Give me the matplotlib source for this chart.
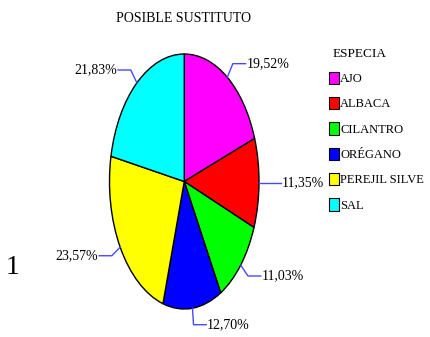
import numpy as np
import matplotlib
matplotlib.use("Agg")
import matplotlib.pyplot as plt

plt.rcParams['font.family'] = ['Liberation Serif', 'DejaVu Serif']

especias = ["AJO", "ALBACA", "CILANTRO", "ORÉGANO", "PEREJIL SILVE", "SAL"]
porcentajes = [19.52, 11.35, 11.03, 12.70, 23.57, 21.83]
colores = ["#FF00FF", "#FF0000", "#00FF00", "#0000FF", "#FFFF00", "#00FFFF"]

W, H = 431, 337
fig = plt.figure(figsize=(W / 100, H / 100), dpi=100)
# pie box in pixels: x 109..259, y 54..309 (stretched into an ellipse)
ax = fig.add_axes([109.5 / W, (H - 309) / H, 149.5 / W, 255 / H])

wedges, _ = ax.pie(porcentajes, colors=colores, startangle=90, counterclock=False,
                   radius=1, center=(0, 0),
                   wedgeprops=dict(edgecolor='black', linewidth=1.0))
ax.set_aspect('auto')
ax.set_xlim(-1, 1)
ax.set_ylim(-1, 1)
ax.axis('off')

# leader lines + percentage labels
for w, p in zip(wedges, porcentajes):
    ang = np.deg2rad((w.theta1 + w.theta2) / 2)
    c, s = np.cos(ang), np.sin(ang)
    x0, y0 = c, s
    x1, y1 = 1.13 * c, 1.13 * s
    if abs(c) < 0.2:
        side = 1
    else:
        side = np.sign(c)
    if abs(s) < 0.1:
        x1, y1 = 1.0 * c, 1.0 * s
    x2 = x1 + side * 0.17
    if abs(s) < 0.1:
        x2 = 1.3
    ax.plot([x0, x1, x2], [y0, y1, y1], color='#4848FF', lw=1.0, clip_on=False)
    txt = f"{p:.2f}%".replace('.', ',')
    ax.text(x2 + side * 0.01, y1, txt, ha='left' if side > 0 else 'right',
            va='center', fontsize=10, clip_on=False)

fig.text(184 / W, 1 - 19 / H, "POSIBLE SUSTITUTO", ha='center', va='center', fontsize=10)
fig.text(13 / W, 1 - 268 / H, "1", ha='center', va='center', fontsize=20)

leg = fig.legend(wedges, especias, title="ESPECIA", loc='upper left',
                 bbox_to_anchor=(320 / W, 1 - 39 / H), frameon=False,
                 fontsize=9, title_fontsize=9.5, handlelength=0.8, handleheight=1.15,
                 handletextpad=0.12, labelspacing=0.95, borderpad=0.2,
                 alignment='left')
leg.get_title().set_position((4, 0))
for h in leg.legend_handles:
    h.set_linewidth(0.8)

fig.savefig("out.png", dpi=100, facecolor='white')
